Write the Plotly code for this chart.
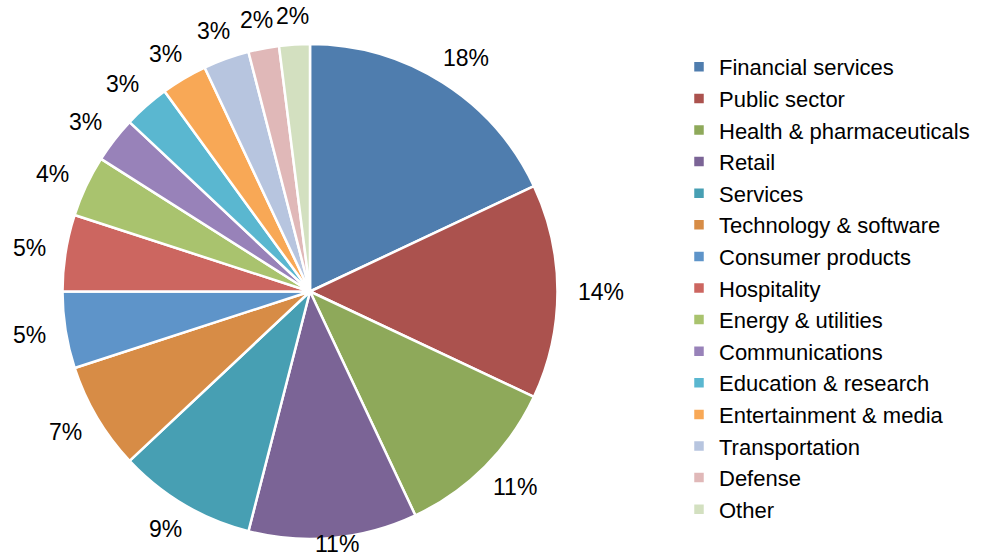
import math
import plotly.graph_objects as go

# Share of projects by industry (percent)
industries = [
    "Financial services", "Public sector", "Health & pharmaceuticals", "Retail",
    "Services", "Technology & software", "Consumer products", "Hospitality",
    "Energy & utilities", "Communications", "Education & research",
    "Entertainment & media", "Transportation", "Defense", "Other",
]
shares = [18, 14, 11, 11, 9, 7, 5, 5, 4, 3, 3, 3, 3, 2, 2]
colors = [
    "#4F7DAE", "#AB524E", "#8EA95A", "#7B6496", "#479FB3", "#D78C46",
    "#5E94C9", "#CC6660", "#A9C36E", "#9882B9", "#5AB7D0", "#F8A856",
    "#B7C5DF", "#E0B8B8", "#D3E0C0",
]

W, H = 992, 556
FONT = "Liberation Sans, Arial, Helvetica, sans-serif"
LABEL_SIZE = 23

# Pie placement in pixels
cx, cy, R = 310, 291.5, 247.5
dom_x = [(cx - R) / W, (cx + R) / W]
dom_y = [(H - cy - R) / H, (H - cy + R) / H]

fig = go.Figure(go.Pie(
    labels=industries,
    values=shares,
    sort=False,
    direction="clockwise",
    rotation=0,
    textinfo="none",
    hoverinfo="label+percent",
    marker=dict(colors=colors, line=dict(color="white", width=2.5)),
    domain=dict(x=dom_x, y=dom_y),
))


def text_width(s, size):
    # approximate Arial advance widths
    w = 0.0
    for ch in s:
        w += 0.889 if ch == "%" else 0.556
    return w * size


# Percentage labels placed just outside each slice
total = sum(shares)
cum = 0.0
gap = 20
for v in shares:
    mid = (cum + v / 2) / total * 2 * math.pi
    cum += v
    ux, uy = math.sin(mid), -math.cos(mid)
    txt = f"{v}%"
    hw = text_width(txt, LABEL_SIZE) / 2
    hh = 9
    px = cx + (R + gap) * ux + hw * ux
    py = cy + (R + gap) * uy + hh * uy
    py = min(max(py, hh + 3), H - hh - 3)
    fig.add_annotation(
        x=px / W, y=1 - py / H, xref="paper", yref="paper",
        text=txt, showarrow=False, xanchor="center", yanchor="middle",
        font=dict(family=FONT, size=LABEL_SIZE, color="#000000"),
    )

fig.update_layout(
    width=W, height=H,
    margin=dict(l=0, r=0, t=0, b=0),
    paper_bgcolor="white",
    plot_bgcolor="white",
    showlegend=True,
    legend=dict(
        x=679 / W, xanchor="left",
        y=1 - 46 / H, yanchor="top",
        font=dict(family=FONT, size=22, color="#000000"),
        bgcolor="rgba(0,0,0,0)",
        traceorder="normal",
    ),
)

fig.write_html("out.html")
